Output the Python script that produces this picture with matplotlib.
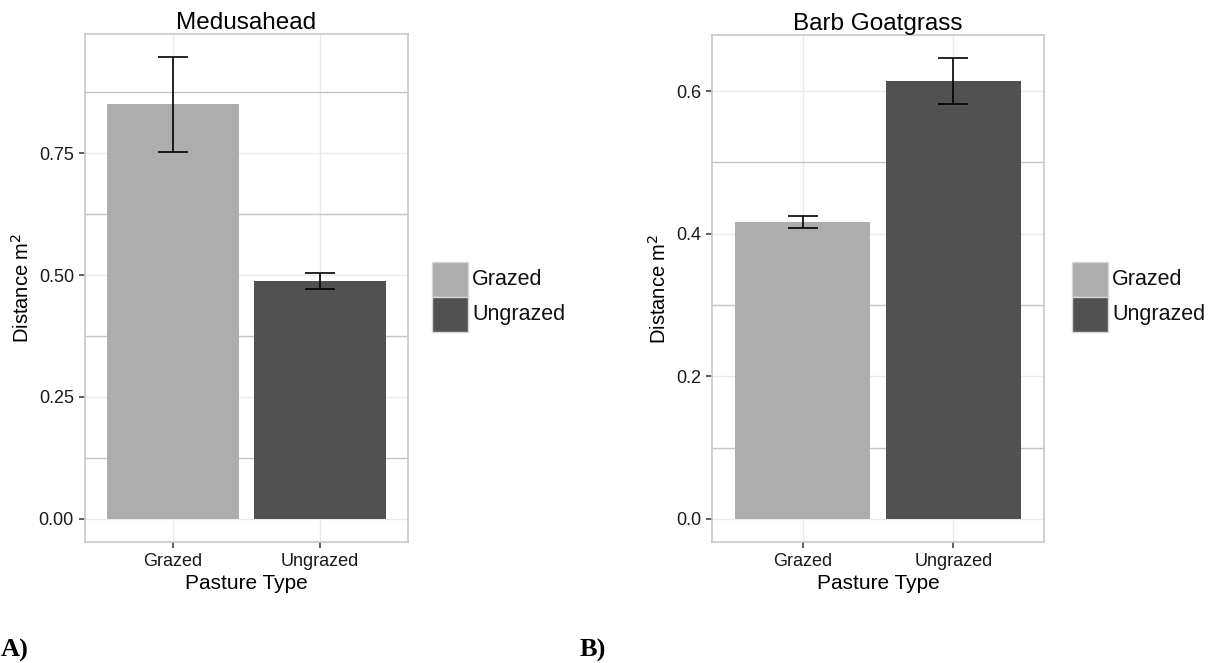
import matplotlib.pyplot as plt
from matplotlib.patches import Rectangle
from matplotlib.ticker import MultipleLocator, FixedLocator

# data
pasture = ['Grazed', 'Ungrazed']
medusa_mean = [0.850, 0.488]
medusa_se = [0.097, 0.017]
goat_mean = [0.417, 0.614]
goat_se = [0.0085, 0.0325]
medusa_ticks = [0.00, 0.25, 0.50, 0.75]
goat_ticks = [0.0, 0.2, 0.4, 0.6]

bar_colors = ['#adadad', '#515151']

W, H = 1219, 663
plt.rcParams['font.family'] = ['Liberation Sans', 'DejaVu Sans']
fig = plt.figure(figsize=(W / 100, H / 100), dpi=100)


def px_axes(x0, y0, x1, y1):
    # pixel box (top-left origin) -> figure fraction
    return fig.add_axes([x0 / W, 1 - y1 / H, (x1 - x0) / W, (y1 - y0) / H])


def panel(ax, title, means, ses, ticks, minor, fmt):
    x = range(len(pasture))
    ax.bar(x, means, width=0.9, color=bar_colors, zorder=2)
    ax.errorbar(x, means, yerr=ses, fmt='none', ecolor='black',
                elinewidth=1.2, capsize=11, capthick=1.2, zorder=3)
    top = max(m + s for m, s in zip(means, ses))
    ax.set_ylim(-0.05 * top, top * 1.05)
    ax.set_xlim(0.4 - 1, 2.6 - 1)
    ax.set_xticks(list(x))
    ax.set_xticklabels(pasture)
    ax.yaxis.set_major_locator(FixedLocator(ticks))
    ax.yaxis.set_minor_locator(MultipleLocator(minor))
    ax.set_yticklabels([fmt.format(t) for t in ticks])
    ax.grid(which='major', color='#ebebeb', linewidth=1.0, zorder=0)
    ax.grid(which='minor', axis='y', color='#c4c4c4', linewidth=1.0, zorder=0)
    ax.set_axisbelow(True)
    for s in ax.spines.values():
        s.set_color('#c8c8c8')
        s.set_linewidth(1.2)
    ax.tick_params(which='major', length=4, width=1.1, color='#333333',
                   labelsize=13, labelcolor='#1a1a1a', pad=4)
    ax.tick_params(which='minor', length=0)
    ax.set_title(title, fontsize=17.5, pad=3)
    ax.set_xlabel('Pasture Type', fontsize=15, labelpad=3)
    ax.set_ylabel('Distance m$^2$', fontsize=14.5, labelpad=4)


def legend(x0, y0):
    kw, kh = 36, 35
    for i, (lab, c) in enumerate(zip(pasture, bar_colors)):
        yy = y0 + i * kh
        fig.add_artist(Rectangle((x0 / W, 1 - (yy + kh) / H), kw / W, kh / H,
                                 transform=fig.transFigure, facecolor=c,
                                 edgecolor='#d6d6d6', linewidth=1.0))
        fig.text((x0 + kw + 4) / W, 1 - (yy + kh / 2) / H, lab,
                 fontsize=15.5, va='center', ha='left', color='#111111')


ax1 = px_axes(85, 34, 408, 542)
panel(ax1, 'Medusahead', medusa_mean, medusa_se, medusa_ticks, 0.125, '{:.2f}')
legend(432, 262)

ax2 = px_axes(712, 35, 1044, 542)
panel(ax2, 'Barb Goatgrass', goat_mean, goat_se, goat_ticks, 0.1, '{:.1f}')
legend(1072, 262)

fig.text(1 / W, 1 - 650 / H, 'A)', fontsize=19, fontweight='bold',
         family='Liberation Serif', va='center', ha='left')
fig.text(580 / W, 1 - 650 / H, 'B)', fontsize=19, fontweight='bold',
         family='Liberation Serif', va='center', ha='left')

fig.savefig('out.png', dpi=100)
